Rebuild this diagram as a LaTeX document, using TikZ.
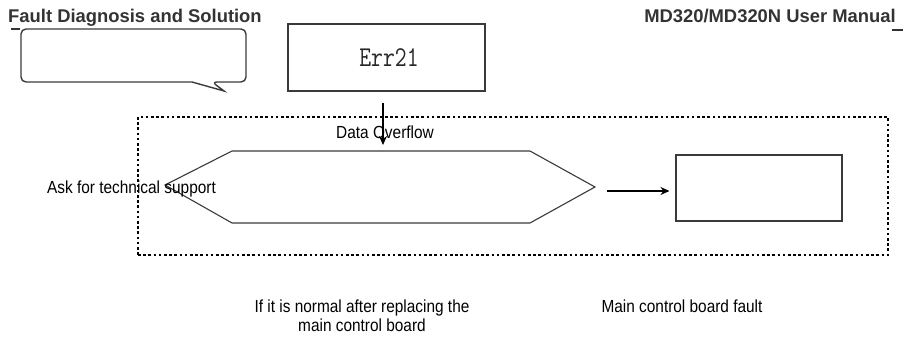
\documentclass[tikz,border=0pt]{standalone}
\usepackage{fontspec}
\usepackage{graphicx}
\setmainfont{Liberation Sans}
\newfontfamily\narrowfont[FakeStretch=0.88]{Liberation Sans}
\usetikzlibrary{arrows.meta}
\definecolor{hdr}{HTML}{333333}
\definecolor{edge}{HTML}{3A3A3A}
\tikzset{
  box/.style={draw=edge, line width=1.1pt, inner sep=0pt},
  dotbox/.style={draw=black, line width=1.8pt, dash pattern=on 2.6pt off 2.6pt, inner sep=0pt},
  arr/.style={draw=black, line width=1.8pt, -{Stealth[length=9pt,width=8pt]}},
  lbl/.style={font=\narrowfont\fontsize{17.5}{20}\selectfont, inner sep=0pt, text=black},
  hdrtxt/.style={font=\bfseries\fontsize{18.4}{21}\selectfont, inner sep=0pt, text=hdr},
}
\begin{document}
\begin{tikzpicture}[x=1pt,y=-1pt]
\useasboundingbox (0,0) rectangle (906,339);
% header
\node[hdrtxt, anchor=base west] (hl) at (8,23) {Fault Diagnosis and Solution};
\node[hdrtxt, anchor=base east] (hr) at (896,23) {MD320/MD320N User Manual};
\draw[hdr, line width=1.4pt] (11,29) -- (20,29);
\draw[hdr, line width=1.4pt] (892,30) -- (903,30);
% callout
\draw[edge, line width=1.4pt] (21,55) [rounded corners=5] -- (21,29) -- (246,29) -- (246,82) -- (212,82) [sharp corners] -- (224,91) -- (192,82) [rounded corners=5] -- (21,82) -- cycle;
% Err21 box
\node[box, minimum width=197, minimum height=67] (err) at (386.5,57.5) {};
\node[inner sep=0pt, anchor=base, text=black!85] (errt) at (389,67) {\scalebox{1}[1.25]{\ttfamily\fontsize{23}{26}\selectfont Err21}};
% dotted group
\node[dotbox, minimum width=750, minimum height=138] (grp) at (513,186) {};
% hexagon
\coordinate (hexW) at (165,185);
\coordinate (hexE) at (595,187);
\coordinate (hexN) at (383,151);
\draw[edge, line width=1.1pt] (hexW) -- (232,151) -- (530,151) -- (hexE) -- (530,223) -- (232,223) -- cycle;
% right box
\node[box, minimum width=166, minimum height=66] (mcb) at (759,188) {};
% arrows
\coordinate (a1) at (383,103);
\draw[arr, line width=1.5pt, shorten >=6pt] (a1) -- (a1 |- hexN);
\coordinate (a2) at (607,191);
\draw[arr, shorten >=6pt] (a2) -- (a2 -| mcb.west);
% labels
\node[lbl, anchor=base] (ovf) at (385,139) {Data Overflow};
\node[lbl, anchor=base west] (ask) at (47,194) {Ask for technical support};
\node[lbl, anchor=base] (n1) at (362,313) {If it is normal after replacing the};
\node[lbl, anchor=base] (n2) at (362,332) {main control board};
\node[lbl, anchor=base] (mf) at (682,313) {Main control board fault};
\end{tikzpicture}
\end{document}
